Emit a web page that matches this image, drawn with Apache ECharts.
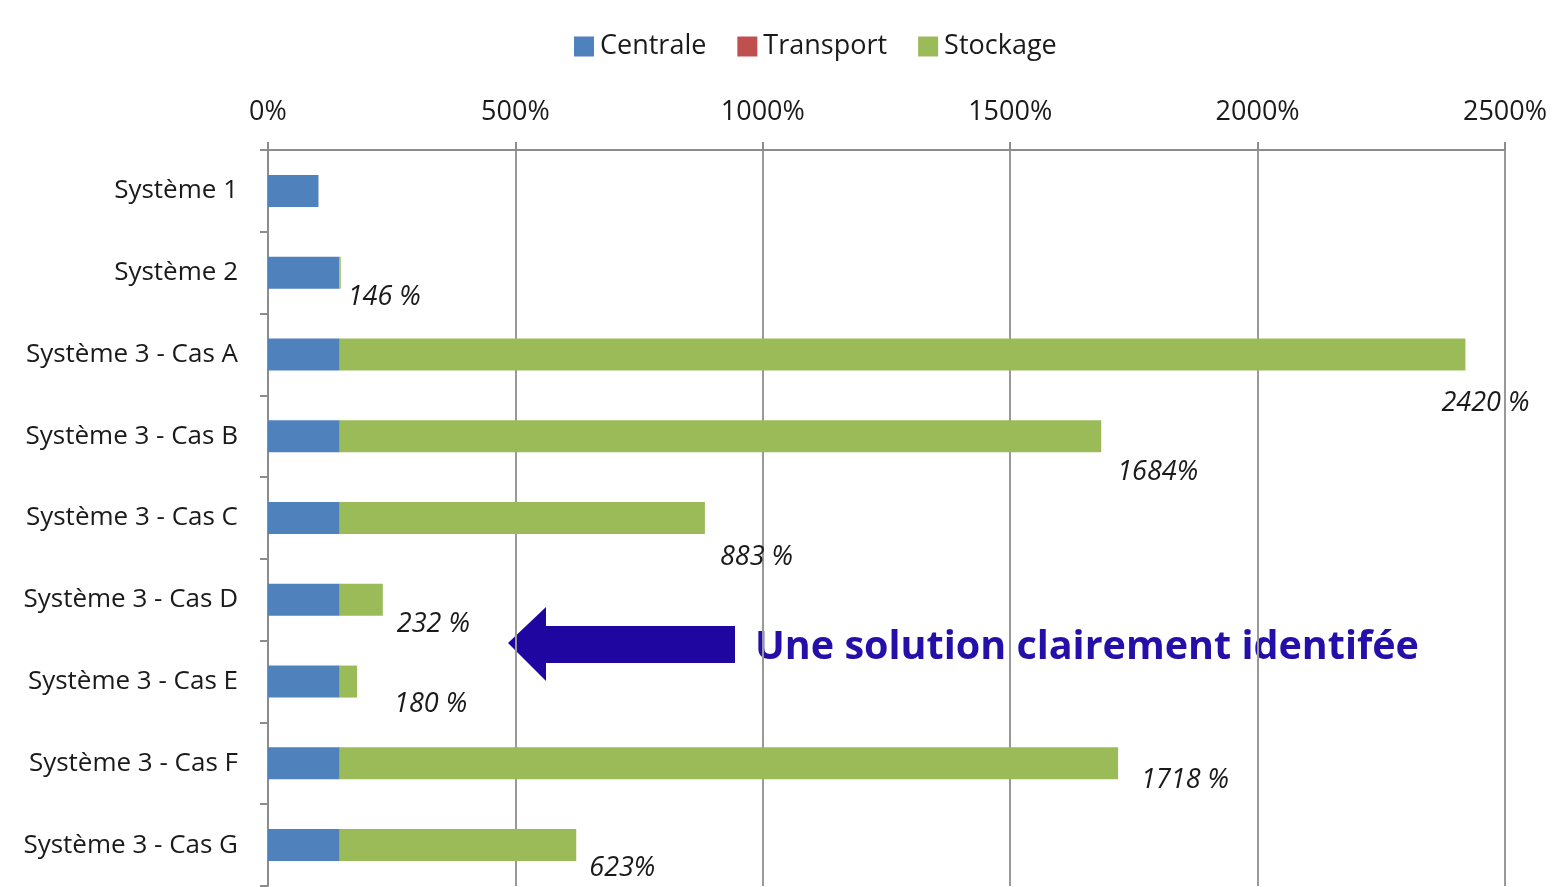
<!DOCTYPE html>
<html>
<head>
<meta charset="utf-8">
<script src="https://cdn.jsdelivr.net/npm/echarts@6/dist/echarts.min.js"></script>
<style>html,body{margin:0;padding:0;background:#fff}#c{width:1563px;height:887px}</style>
</head>
<body>
<div id="c"></div>
<script>
const categories = ['Système 1','Système 2','Système 3 - Cas A','Système 3 - Cas B','Système 3 - Cas C','Système 3 - Cas D','Système 3 - Cas E','Système 3 - Cas F','Système 3 - Cas G'];
const centrale  = [102, 144, 145, 145, 145, 145, 145, 145, 145];
const transport = [0, 0, 0, 0, 0, 0, 0, 0, 0];
const stockage  = [0, 3, 2275, 1539, 738, 87, 35, 1573, 478];
const totalLabels = ['', '146 %', '2420 %', '1684%', '883 %', '232 %', '180 %', '1718 %', '623%'];
const xTicks = [0, 500, 1000, 1500, 2000, 2500];

const labelOffsets = [[0,0],[7,25],[-24,49],[16,36],[15,39],[14,25],[37,23],[23,17],[13,23]];

const chart = echarts.init(document.getElementById('c'));
const fontFam = 'Open Sans, Lato, sans-serif';
chart.setOption({
  animation: false,
  color: ['#4f81bd','#c0504d','#9bbb59'],
  legend: {
    top: 28, left: 569, itemWidth: 20, itemHeight: 20, itemGap: 31,
    icon: 'rect',
    textStyle: {fontSize: 27, color: '#1a1a1a', fontFamily: fontFam, padding: [0,0,0,1]},
    data: ['Centrale','Transport','Stockage']
  },
  grid: {left: 268, right: 58, top: 150, bottom: 1, containLabel: false},
  xAxis: {
    type: 'value', position: 'top', min: xTicks[0], max: xTicks[xTicks.length-1], interval: 500,
    axisLine: {show: true, lineStyle: {color: '#8c8c8c', width: 2}},
    axisTick: {show: true, length: 8, lineStyle: {color: '#8c8c8c', width: 2}},
    splitLine: {show: true, lineStyle: {color: '#999', width: 2}},
    axisLabel: {formatter: v => v + '%', fontSize: 27, color: '#1a1a1a', margin: 24, fontFamily: fontFam}
  },
  yAxis: {
    type: 'category', inverse: true, data: categories,
    axisLine: {show: true, onZero: false, lineStyle: {color: '#8c8c8c', width: 2}},
    axisTick: {show: true, length: 8, lineStyle: {color: '#8c8c8c', width: 2}},
    axisLabel: {fontSize: 26, color: '#1a1a1a', margin: 30, fontFamily: fontFam, padding: [4,0,0,0]}
  },
  series: [
    {name: 'Centrale', type: 'bar', stack: 't', barWidth: 32, data: centrale},
    {name: 'Transport', type: 'bar', stack: 't', barWidth: 32, data: transport},
    {name: 'Stockage', type: 'bar', stack: 't', barWidth: 32,
      data: stockage.map((v, i) => ({
        value: v,
        label: {
          show: totalLabels[i] !== '', position: 'right', distance: 0,
          offset: labelOffsets[i], formatter: totalLabels[i],
          fontSize: 27, fontStyle: 'italic', color: '#1a1a1a', fontFamily: fontFam
        }
      }))
    }
  ],
  graphic: [
    {type: 'polygon', shape: {points: [[508,643],[546,607],[546,626],[735,626],[735,663],[546,663],[546,681]]},
      style: {fill: '#1f06a0'}},
    {type: 'text', left: 755, top: 628, style: {text: 'Une solution clairement identifée', fontSize: 39.5, fontWeight: 'bold', fill: '#2410a8', fontFamily: fontFam}}
  ]
});
</script>
</body>
</html>
